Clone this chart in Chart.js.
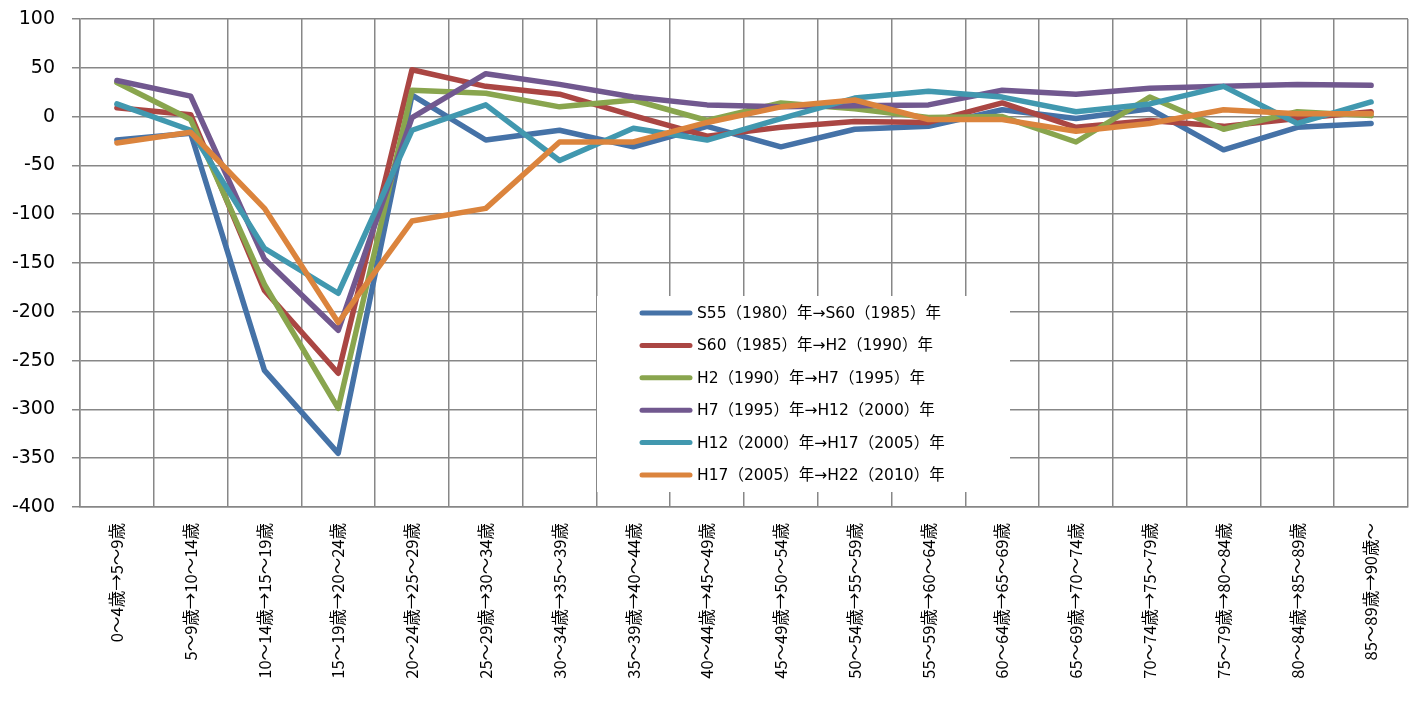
<!DOCTYPE html>
<html>
<head>
<meta charset="utf-8">
<script src="https://cdn.jsdelivr.net/npm/chart.js@4/dist/chart.umd.min.js"></script>
<style>
  body { margin: 0; background: #fff; }
</style>
</head>
<body>
<canvas id="grafico" width="1414" height="706"></canvas>
<script>
const categorias = [
  "0～4歳→5～9歳", "5～9歳→10～14歳", "10～14歳→15～19歳", "15～19歳→20～24歳",
  "20～24歳→25～29歳", "25～29歳→30～34歳", "30～34歳→35～39歳", "35～39歳→40～44歳",
  "40～44歳→45～49歳", "45～49歳→50～54歳", "50～54歳→55～59歳", "55～59歳→60～64歳",
  "60～64歳→65～69歳", "65～69歳→70～74歳", "70～74歳→75～79歳", "75～79歳→80～84歳",
  "80～84歳→85～89歳", "85～89歳→90歳～"
];

const nombres = [
  "S55（1980）年→S60（1985）年",
  "S60（1985）年→H2（1990）年",
  "H2（1990）年→H7（1995）年",
  "H7（1995）年→H12（2000）年",
  "H12（2000）年→H17（2005）年",
  "H17（2005）年→H22（2010）年"
];

const s55 = [-24, -17, -260, -345, 22, -24, -14, -31, -10, -31, -13, -10, 7, -2, 8, -34, -11, -7];
const s60 = [9, 2, -178, -263, 48, 31, 23, 1, -20, -11, -5, -6, 14, -11, -4, -10, -2, 5];
const h2 = [35, -3, -172, -299, 27, 24, 10, 17, -4, 14, 8, -1, 0, -26, 20, -13, 5, 1];
const h7 = [37, 21, -146, -219, -1, 44, 33, 20, 12, 10, 11, 12, 27, 23, 29, 31, 33, 32];
const h12 = [13, -14, -135, -181, -14, 12, -45, -12, -24, -2, 19, 26, 20, 5, 13, 31, -7, 15];
const h17 = [-27, -16, -94, -211, -107, -94, -26, -26, -6, 10, 17, -3, -3, -15, -7, 7, 3, 3];

const yTicks = [100, 50, 0, -50, -100, -150, -200, -250, -300, -350, -400];

const colores = ["#4572A7", "#AA4643", "#89A54E", "#71588F", "#4198AF", "#DB843D"];
const series = [s55, s60, h2, h7, h12, h17];

const GRIS = "#878787";
const FUENTE = "'DejaVu Sans', 'Noto Sans CJK JP', sans-serif";
const FUENTE_JP = "'Noto Sans CJK JP', sans-serif";

// leyenda dibujada dentro del area del grafico
const leyenda = {
  id: "leyenda",
  afterDatasetsDraw(chart) {
    const ctx = chart.ctx;
    ctx.save();
    ctx.fillStyle = "#fff";
    ctx.fillRect(597, 296, 413, 196);
    ctx.font = "15.5px " + FUENTE;
    ctx.textBaseline = "middle";
    chart.data.datasets.forEach((ds, i) => {
      const y = 313 + i * 32.4;
      ctx.strokeStyle = ds.borderColor;
      ctx.lineWidth = 5;
      ctx.lineCap = "round";
      ctx.beginPath();
      ctx.moveTo(642, y);
      ctx.lineTo(690, y);
      ctx.stroke();
      ctx.fillStyle = "#000";
      ctx.fillText(ds.label, 697, y + 1);
    });
    ctx.restore();
  }
};

new Chart(document.getElementById("grafico"), {
  type: "line",
  data: {
    labels: categorias,
    datasets: series.map((valores, i) => ({
      label: nombres[i],
      data: valores,
      borderColor: colores[i],
      backgroundColor: colores[i],
      borderWidth: 5.5,
      borderCapStyle: "round",
      borderJoinStyle: "round",
      pointRadius: 0,
      tension: 0,
      order: series.length - i
    }))
  },
  options: {
    responsive: false,
    animation: false,
    devicePixelRatio: 1,
    layout: { padding: { top: 19, right: 6, left: 0, bottom: 0 } },
    plugins: {
      legend: { display: false },
      tooltip: { enabled: false }
    },
    scales: {
      x: {
        offset: true,
        grid: { offset: true, color: GRIS, lineWidth: 1.5, drawTicks: false },
        border: { color: GRIS, width: 1.5 },
        ticks: {
          autoSkip: false,
          minRotation: 90,
          maxRotation: 90,
          padding: 16,
          color: "#000",
          font: { family: FUENTE_JP, size: 16.5 }
        },
        afterFit(scale) { scale.height = 199; }
      },
      y: {
        min: -400,
        max: 100,
        afterBuildTicks(scale) { scale.ticks = yTicks.map(v => ({ value: v })); },
        grid: { color: GRIS, lineWidth: 1.5, tickLength: 8 },
        border: { color: GRIS, width: 1.5 },
        ticks: {
          padding: 17,
          color: "#000",
          font: { family: FUENTE, size: 19 }
        },
        afterFit(scale) {
          scale.width = 80;
          scale.paddingTop = 0;
          scale.paddingBottom = 0;
        }
      }
    }
  },
  plugins: [leyenda]
});
</script>
</body>
</html>
